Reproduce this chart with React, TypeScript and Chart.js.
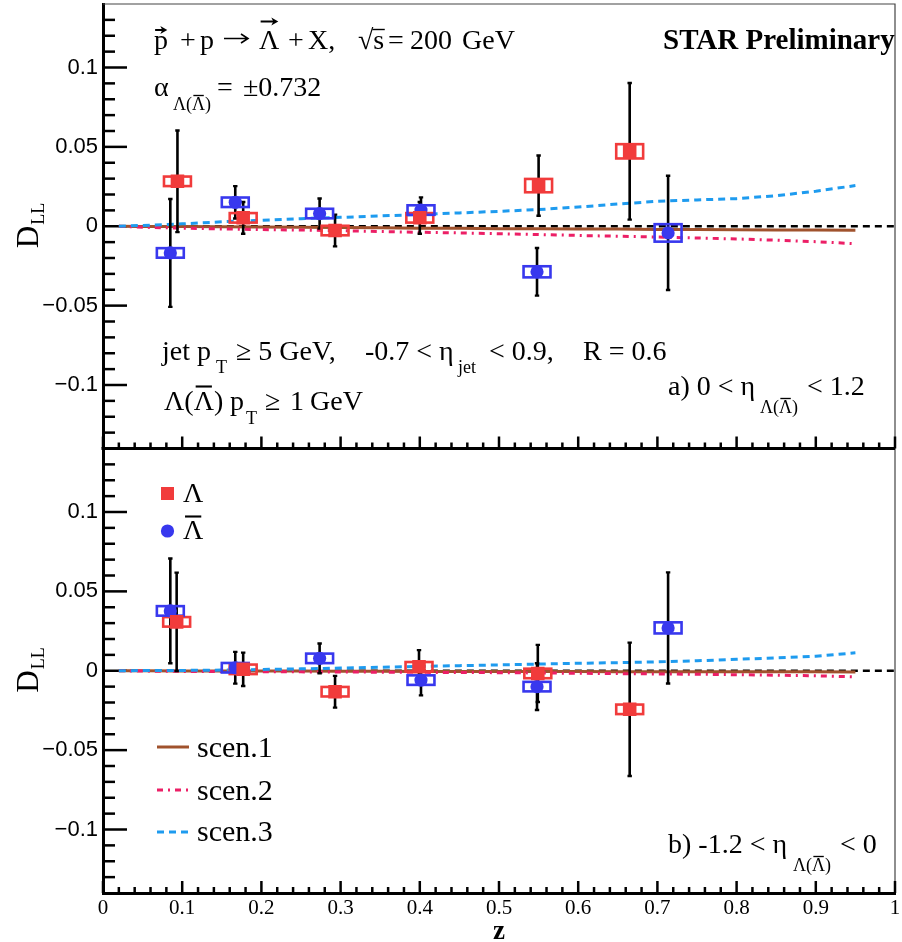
import { useEffect, useRef } from 'react';
import { Chart, registerables } from 'chart.js';

Chart.register(...registerables);

// ---------- axis ticks ----------
const xTickValues = [0, 0.1, 0.2, 0.3, 0.4, 0.5, 0.6, 0.7, 0.8, 0.9, 1];
const xTickLabels = ['0', '0.1', '0.2', '0.3', '0.4', '0.5', '0.6', '0.7', '0.8', '0.9', '1'];
const yTickValues = [-0.1, -0.05, 0, 0.05, 0.1];
const yTickLabels = ['\u22120.1', '\u22120.05', '0', '0.05', '0.1'];

// ---------- theory curves ----------
const zCurve = [0.02, 0.05, 0.1, 0.15, 0.2, 0.25, 0.3, 0.35, 0.4, 0.45, 0.5, 0.55, 0.6, 0.65, 0.7, 0.75, 0.8, 0.85, 0.9, 0.95];
const topScen1 = [0, -0.0001, -0.0002, -0.0003, -0.0004, -0.0006, -0.0008, -0.001, -0.0012, -0.0013, -0.0015, -0.0016, -0.0017, -0.0018, -0.002, -0.0021, -0.0022, -0.0023, -0.0024, -0.0025];
const topScen2 = [0, -0.0006, -0.0012, -0.0017, -0.0021, -0.0024, -0.0028, -0.0033, -0.0038, -0.0042, -0.0047, -0.0052, -0.0058, -0.0063, -0.0068, -0.0074, -0.008, -0.0088, -0.0097, -0.011];
const topScen3 = [0, 0.0005, 0.0015, 0.0028, 0.0038, 0.0048, 0.0056, 0.0065, 0.0074, 0.0084, 0.0094, 0.0105, 0.0121, 0.014, 0.0157, 0.0166, 0.0174, 0.0192, 0.0221, 0.0256];
const botScen1 = [0, 0, -0.0001, -0.0001, -0.0002, -0.0002, -0.0003, -0.0003, -0.0004, -0.0004, -0.0005, -0.0005, -0.0005, -0.0006, -0.0006, -0.0006, -0.0007, -0.0007, -0.0007, -0.0008];
const botScen2 = [0, -0.0002, -0.0004, -0.0005, -0.0006, -0.0007, -0.0008, -0.0009, -0.001, -0.0011, -0.0012, -0.0014, -0.0016, -0.0018, -0.002, -0.0022, -0.0025, -0.0028, -0.0032, -0.0038];
const botScen3 = [0, 0.0001, 0.0002, 0.0004, 0.0008, 0.0012, 0.0017, 0.0022, 0.0027, 0.0032, 0.0037, 0.0042, 0.0047, 0.0051, 0.0056, 0.0063, 0.0072, 0.0081, 0.0092, 0.0113];
const zeroLineZ = [0.02, 1.0];

// ---------- measured points: a) 0 < eta < 1.2 ----------
const zTopLambda = [0.094, 0.177, 0.293, 0.4, 0.55, 0.665];
const dllTopLambda = [0.0283, 0.0053, -0.0027, 0.0053, 0.0256, 0.0472];
const statTopLambda = [0.032, 0.01, 0.01, 0.01, 0.019, 0.043];
const sysTopLambda = [0.003, 0.003, 0.003, 0.003, 0.0042, 0.0045];

const zTopAnti = [0.085, 0.167, 0.2735, 0.4015, 0.548, 0.7135];
const dllTopAnti = [-0.0168, 0.0151, 0.008, 0.0102, -0.0287, -0.0042];
const statTopAnti = [0.034, 0.0102, 0.0095, 0.008, 0.015, 0.036];
const sysTopAnti = [0.003, 0.003, 0.003, 0.003, 0.0035, 0.0055];

// ---------- measured points: b) -1.2 < eta < 0 ----------
const zBotLambda = [0.093, 0.177, 0.293, 0.399, 0.549, 0.665];
const dllBotLambda = [0.0308, 0.0009, -0.0132, 0.0025, -0.0017, -0.0243];
const statBotLambda = [0.031, 0.0105, 0.01, 0.0105, 0.018, 0.042];
const sysBotLambda = [0.003, 0.003, 0.003, 0.003, 0.003, 0.003];

const zBotAnti = [0.085, 0.167, 0.2735, 0.4015, 0.548, 0.7135];
const dllBotAnti = [0.0377, 0.0019, 0.0078, -0.0059, -0.01, 0.027];
const statBotAnti = [0.033, 0.01, 0.0094, 0.0096, 0.0147, 0.035];
const sysBotAnti = [0.003, 0.003, 0.003, 0.003, 0.003, 0.0035];

// ---------- styles ----------
const RED = '#f13b3b';
const BLUE = '#3838ee';
const BROWN = '#a0522d';
const PINK = '#ec1f66';
const SKY = '#1e9bef';
const BOX_HALF_Z = 0.017;
const SERIF = '"Liberation Serif", "Times New Roman", serif';
const SANS = '"Liberation Sans", Arial, sans-serif';

const pointSeries = [
  { z: zTopLambda, v: dllTopLambda, stat: statTopLambda, sys: sysTopLambda, color: RED, axis: 'yTop', style: 'rect', r: 9.6 },
  { z: zTopAnti, v: dllTopAnti, stat: statTopAnti, sys: sysTopAnti, color: BLUE, axis: 'yTop', style: 'circle', r: 6.6 },
  { z: zBotLambda, v: dllBotLambda, stat: statBotLambda, sys: sysBotLambda, color: RED, axis: 'yBot', style: 'rect', r: 9.6 },
  { z: zBotAnti, v: dllBotAnti, stat: statBotAnti, sys: sysBotAnti, color: BLUE, axis: 'yBot', style: 'circle', r: 6.6 },
];

type Seg = { t: string; s?: number; dy?: number; b?: boolean; over?: number; vec?: number; root?: number; x?: number; arrow?: number };

function drawRich(ctx: CanvasRenderingContext2D, x0: number, y: number, segs: Seg[], size: number) {
  let x = x0;
  ctx.textAlign = 'left';
  ctx.textBaseline = 'alphabetic';
  ctx.fillStyle = '#000';
  ctx.strokeStyle = '#000';
  for (const g of segs) {
    if (g.x !== undefined) x = g.x;
    const sz = g.s ?? size;
    ctx.font = `${g.b ? 'bold ' : ''}${sz}px ${SERIF}`;
    const yy = y + (g.dy ?? 0);
    if (g.arrow !== undefined) {
      // long right arrow drawn by hand
      const ay = yy - 10;
      const xe = x + g.arrow;
      ctx.beginPath();
      ctx.lineWidth = 1.6;
      ctx.moveTo(x + 1, ay);
      ctx.lineTo(xe, ay);
      ctx.moveTo(xe - 7, ay - 4.5);
      ctx.lineTo(xe, ay);
      ctx.lineTo(xe - 7, ay + 4.5);
      ctx.stroke();
      x = xe;
      continue;
    }
    ctx.fillText(g.t, x, yy);
    const w = ctx.measureText(g.t).width;
    if (g.over !== undefined) {
      ctx.beginPath();
      ctx.lineWidth = Math.max(1.3, sz * 0.075);
      ctx.moveTo(x + w * 0.1, yy - g.over);
      ctx.lineTo(x + w * 0.9, yy - g.over);
      ctx.stroke();
    }
    if (g.root !== undefined) {
      ctx.beginPath();
      ctx.lineWidth = 1.4;
      ctx.moveTo(x - 1, yy - g.root);
      ctx.lineTo(x + w + 0.5, yy - g.root);
      ctx.stroke();
    }
    if (g.vec !== undefined) {
      const ay = yy - g.vec;
      const xs = x + w * 0.08;
      const xe = x + w * 0.95;
      ctx.beginPath();
      ctx.lineWidth = 2;
      ctx.moveTo(xs, ay);
      ctx.lineTo(xe - 4, ay);
      ctx.stroke();
      ctx.beginPath();
      ctx.moveTo(xe, ay);
      ctx.lineTo(xe - 7, ay - 4);
      ctx.lineTo(xe - 5, ay);
      ctx.lineTo(xe - 7, ay + 4);
      ctx.closePath();
      ctx.fill();
    }
    x += w;
  }
  return x;
}

function drawYTitle(ctx: CanvasRenderingContext2D, cy: number) {
  ctx.save();
  ctx.translate(38, cy + 22);
  ctx.rotate(-Math.PI / 2);
  ctx.textAlign = 'left';
  ctx.textBaseline = 'alphabetic';
  ctx.fillStyle = '#000';
  ctx.font = `31px ${SERIF}`;
  ctx.fillText('D', 0, 0);
  const w = ctx.measureText('D').width;
  ctx.font = `18px ${SERIF}`;
  ctx.fillText('LL', w + 1, 6);
  ctx.restore();
}

const lamSub = (dy: number, x?: number): Seg[] => [
  { t: '\u039B(', s: 18, dy, x },
  { t: '\u039B', s: 18, dy, over: 14.5 },
  { t: ')', s: 18, dy },
];

const rootPlugin = {
  id: 'rootStyle',
  beforeDatasetsDraw(chart: any) {
    chart.$errDone = false;
    const ctx: CanvasRenderingContext2D = chart.ctx;
    const x = chart.scales.x;
    const yT = chart.scales.yTop;
    const yB = chart.scales.yBot;
    ctx.save();
    // thin frame
    ctx.strokeStyle = '#444';
    ctx.lineWidth = 1.2;
    ctx.beginPath();
    ctx.moveTo(x.left, yT.top);
    ctx.lineTo(x.right, yT.top);
    ctx.lineTo(x.right, yB.bottom);
    ctx.stroke();
    // separator (x axis of top pad)
    ctx.strokeStyle = '#000';
    ctx.lineWidth = 3;
    ctx.beginPath();
    ctx.moveTo(x.left - 1.5, yT.bottom);
    ctx.lineTo(x.right, yT.bottom);
    ctx.stroke();
    // x ticks
    ctx.lineWidth = 2.5;
    for (let k = 0; k <= 50; k++) {
      const px = x.getPixelForValue(k / 50);
      const len = k % 5 === 0 ? 12 : 6;
      for (const yb of [yT.bottom, yB.bottom]) {
        ctx.beginPath();
        ctx.moveTo(px, yb);
        ctx.lineTo(px, yb - len);
        ctx.stroke();
      }
    }
    // y ticks
    for (const ys of [yT, yB]) {
      for (let k = -13; k <= 13; k++) {
        const py = ys.getPixelForValue(k / 100);
        const len = k % 5 === 0 ? 24 : 12;
        ctx.beginPath();
        ctx.moveTo(x.left, py);
        ctx.lineTo(x.left + len, py);
        ctx.stroke();
      }
    }
    // axis titles
    drawYTitle(ctx, yT.getPixelForValue(0));
    drawYTitle(ctx, yB.getPixelForValue(0));
    ctx.font = `bold 27px ${SERIF}`;
    ctx.textAlign = 'center';
    ctx.textBaseline = 'alphabetic';
    ctx.fillStyle = '#000';
    ctx.fillText('z', x.getPixelForValue(0.5), 939);

    // texts of pad a)
    drawRich(ctx, 154, 48.5, [
      { t: 'p', x: 154, vec: 18.5 },
      { t: '+', x: 180 },
      { t: 'p', x: 200 },
      { t: '', x: 223, arrow: 25 },
      { t: '\u039B', x: 259, vec: 27 },
      { t: '+', x: 288 },
      { t: 'X,', x: 308 },
      { t: '\u221A', x: 358 },
      { t: 's', root: 19 },
      { t: '=', x: 388 },
      { t: '200', x: 410 },
      { t: 'GeV', x: 462 },
    ], 28);
    drawRich(ctx, 663, 48.5, [{ t: 'STAR Preliminary', b: true }], 29);
    drawRich(ctx, 154, 96, [
      { t: '\u03B1', x: 154 },
      ...lamSub(14, 173),
      { t: '=', x: 217 },
      { t: '\u00B10.732', x: 243 },
    ], 28);
    drawRich(ctx, 162, 360, [
      { t: 'jet p', x: 162 },
      { t: 'T', s: 18, dy: 13, x: 216 },
      { t: '\u2265 5 GeV,', x: 236 },
      { t: '-0.7 < \u03B7', x: 365 },
      { t: 'jet', s: 18, dy: 13, x: 458 },
      { t: '< 0.9,', x: 489 },
      { t: 'R = 0.6', x: 583 },
    ], 28);
    drawRich(ctx, 164, 410, [
      { t: '\u039B(', x: 164 },
      { t: '\u039B', over: 23.5 },
      { t: ')' },
      { t: 'p', x: 230 },
      { t: 'T', s: 18, dy: 13.5, x: 246 },
      { t: '\u2265', x: 265 },
      { t: '1', x: 290 },
      { t: 'GeV', x: 310 },
    ], 28);
    drawRich(ctx, 668, 395, [
      { t: 'a) 0 < \u03B7', x: 668 },
      ...lamSub(18, 760),
      { t: '< 1.2', x: 807 },
    ], 28);

    // texts of pad b)
    drawRich(ctx, 668, 853, [
      { t: 'b) -1.2 < \u03B7', x: 668 },
      ...lamSub(18, 793),
      { t: '< 0', x: 840 },
    ], 28);

    // legend
    ctx.fillStyle = RED;
    ctx.fillRect(161, 487, 13, 13);
    ctx.fillStyle = BLUE;
    ctx.beginPath();
    ctx.arc(167.5, 531, 6.6, 0, Math.PI * 2);
    ctx.fill();
    drawRich(ctx, 183, 502, [{ t: '\u039B' }], 28);
    drawRich(ctx, 183, 539, [{ t: '\u039B', over: 22.5 }], 28);

    const legLines = [
      { y: 747, color: BROWN, dash: [] as number[], label: 'scen.1', base: 757 },
      { y: 790, color: PINK, dash: [6, 5, 2, 5], label: 'scen.2', base: 800 },
      { y: 832, color: SKY, dash: [7, 5], label: 'scen.3', base: 841 },
    ];
    for (const l of legLines) {
      ctx.save();
      ctx.strokeStyle = l.color;
      ctx.lineWidth = 3;
      ctx.setLineDash(l.dash);
      ctx.beginPath();
      ctx.moveTo(157, l.y);
      ctx.lineTo(189, l.y);
      ctx.stroke();
      ctx.restore();
      drawRich(ctx, 197, l.base, [{ t: l.label }], 30);
    }
    ctx.restore();
  },
  beforeDatasetDraw(chart: any, args: any) {
    if (args.meta.type !== 'scatter' || chart.$errDone) return;
    chart.$errDone = true;
    const ctx: CanvasRenderingContext2D = chart.ctx;
    const x = chart.scales.x;
    ctx.save();
    for (const s of pointSeries) {
      const y = chart.scales[s.axis];
      for (let i = 0; i < s.z.length; i++) {
        const px = x.getPixelForValue(s.z[i]);
        const p1 = y.getPixelForValue(s.v[i] + s.stat[i]);
        const p2 = y.getPixelForValue(s.v[i] - s.stat[i]);
        ctx.strokeStyle = '#000';
        ctx.lineWidth = 2.6;
        ctx.beginPath();
        ctx.moveTo(px, p1);
        ctx.lineTo(px, p2);
        ctx.stroke();
        ctx.lineWidth = 2.4;
        ctx.beginPath();
        ctx.moveTo(px - 2.2, p1);
        ctx.lineTo(px + 2.2, p1);
        ctx.moveTo(px - 2.2, p2);
        ctx.lineTo(px + 2.2, p2);
        ctx.stroke();
      }
    }
    for (const s of pointSeries) {
      const y = chart.scales[s.axis];
      for (let i = 0; i < s.z.length; i++) {
        const xl = x.getPixelForValue(s.z[i] - BOX_HALF_Z);
        const xr = x.getPixelForValue(s.z[i] + BOX_HALF_Z);
        const yt = y.getPixelForValue(s.v[i] + s.sys[i]);
        const yb = y.getPixelForValue(s.v[i] - s.sys[i]);
        ctx.strokeStyle = s.color;
        ctx.lineWidth = 2.6;
        ctx.strokeRect(xl, yt, xr - xl, yb - yt);
      }
    }
    ctx.restore();
  },
};

function curve(zs: number[], ys: number[]) {
  return zs.map((z, i) => ({ x: z, y: ys[i] }));
}

const noPad = (s: any) => {
  s.paddingTop = 0;
  s.paddingBottom = 0;
  s.paddingLeft = 0;
  s.paddingRight = 0;
};

export default function App() {
  const ref = useRef<HTMLCanvasElement>(null);
  useEffect(() => {
    const canvas = ref.current;
    if (!canvas) return;
    const lineDs = (data: any[], color: string, dash: number[], axis: string, width = 3) => ({
      type: 'line' as const,
      data,
      borderColor: color,
      borderWidth: width,
      borderDash: dash,
      pointRadius: 0,
      fill: false,
      tension: 0,
      yAxisID: axis,
      order: 2,
    });
    const zero = zeroLineZ.map((z) => ({ x: z, y: 0 }));
    const datasets: any[] = [
      lineDs(curve(zCurve, topScen3), SKY, [7, 5], 'yTop'),
      lineDs(curve(zCurve, topScen2), PINK, [6, 5, 2, 5], 'yTop'),
      lineDs(curve(zCurve, topScen1), BROWN, [], 'yTop'),
      lineDs(zero, '#000', [7, 5], 'yTop', 2.6),
      lineDs(curve(zCurve, botScen3), SKY, [7, 5], 'yBot'),
      lineDs(curve(zCurve, botScen2), PINK, [6, 5, 2, 5], 'yBot'),
      lineDs(curve(zCurve, botScen1), BROWN, [], 'yBot'),
      lineDs(zero, '#000', [7, 5], 'yBot', 2.6),
      ...pointSeries.map((s) => ({
        type: 'scatter' as const,
        data: curve(s.z, s.v),
        pointStyle: s.style,
        pointRadius: s.r,
        pointBackgroundColor: s.color,
        pointBorderWidth: 0,
        pointBorderColor: s.color,
        yAxisID: s.axis,
        order: 0,
      })),
    ];
    const yScale = (weight: number) => ({
      type: 'linear' as const,
      position: 'left' as const,
      stack: 'pads',
      stackWeight: 1,
      weight,
      min: -0.14,
      max: 0.14,
      afterBuildTicks: (s: any) => {
        s.ticks = yTickValues.map((v) => ({ value: v }));
      },
      afterFit: (s: any) => {
        s.width = 103;
        noPad(s);
      },
      ticks: {
        callback: (_v: any, i: number) => yTickLabels[i],
        font: { family: SANS, size: 22 },
        color: '#000',
        padding: 5,
        autoSkip: false,
      },
      grid: { display: true, drawOnChartArea: false, drawTicks: false },
      border: { display: true, width: 3, color: '#000' },
    });
    const chart = new Chart(canvas, {
      type: 'line',
      data: { datasets },
      plugins: [rootPlugin],
      options: {
        animation: false,
        responsive: false,
        devicePixelRatio: 1,
        events: [],
        layout: { padding: { top: 4, right: 7, left: 0, bottom: 0 }, autoPadding: false },
        plugins: { legend: { display: false }, tooltip: { enabled: false } },
        scales: {
          x: {
            type: 'linear',
            min: 0,
            max: 1,
            afterBuildTicks: (s: any) => {
              s.ticks = xTickValues.map((v) => ({ value: v }));
            },
            afterFit: (s: any) => {
              s.height = 49;
              noPad(s);
            },
            ticks: {
              callback: (_v: any, i: number) => xTickLabels[i],
              font: { family: SERIF, size: 21 },
              color: '#000',
              padding: 3,
              maxRotation: 0,
              autoSkip: false,
            },
            grid: { display: true, drawOnChartArea: false, drawTicks: false },
            border: { display: true, width: 3, color: '#000' },
          },
          yTop: yScale(2),
          yBot: yScale(1),
        },
      } as any,
    });
    return () => chart.destroy();
  }, []);
  return (
    <div style={{ position: 'absolute', left: 0, top: 0, width: 902, height: 942, background: '#fff' }}>
      <canvas ref={ref} width={902} height={942} style={{ display: 'block' }} />
    </div>
  );
}
